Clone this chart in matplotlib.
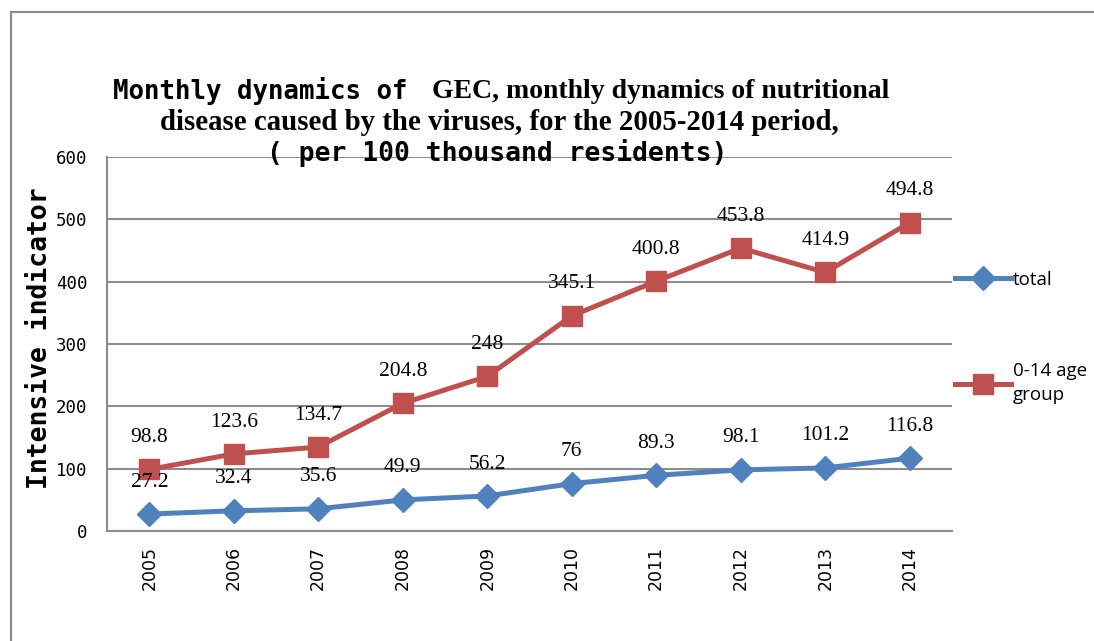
import matplotlib.pyplot as plt
from matplotlib.patches import Rectangle

years = ['2005', '2006', '2007', '2008', '2009', '2010', '2011', '2012', '2013', '2014']
total = [27.2, 32.4, 35.6, 49.9, 56.2, 76, 89.3, 98.1, 101.2, 116.8]
age_0_14 = [98.8, 123.6, 134.7, 204.8, 248, 345.1, 400.8, 453.8, 414.9, 494.8]
yticks = [0, 100, 200, 300, 400, 500, 600]

W, H = 1094, 641
fig = plt.figure(figsize=(W / 100, H / 100), dpi=100)

# outer chart frame (only left and top edges fall inside the picture)
fig.add_artist(Rectangle((11 / W, -0.2), 2.0, 1.2 - 12 / H, transform=fig.transFigure,
                         fill=False, edgecolor='#8c8c8c', linewidth=1.6))

ax = fig.add_axes([107 / W, 1 - 531 / H, (952 - 107) / W, (531 - 157) / H])
x = list(range(len(years)))

ax.plot(x, total, color='#4F81BD', linewidth=3.6, marker='D', markersize=12,
        label='total', zorder=3)
ax.plot(x, age_0_14, color='#C0504D', linewidth=3.6, marker='s', markersize=14,
        label='0-14 age\ngroup', zorder=3)

for xi, v in zip(x, total):
    ax.annotate(f'{v:g}', (xi, v), xytext=(0, 23), textcoords='offset points',
                ha='center', va='center', fontsize=15.5, family='Liberation Serif')
for xi, v in zip(x, age_0_14):
    ax.annotate(f'{v:g}', (xi, v), xytext=(0, 23), textcoords='offset points',
                ha='center', va='center', fontsize=15.5, family='Liberation Serif')

ax.set_xlim(-0.5, len(years) - 0.5)
ax.set_ylim(0, 600)
ax.set_xticks(x)
ax.set_xticklabels(years, rotation=90, fontsize=12.5, family='DejaVu Sans')
ax.set_yticks(yticks)
ax.set_yticklabels([str(t) for t in yticks], fontsize=12.5, family='DejaVu Sans Mono')
ax.tick_params(axis='x', length=0, pad=11)
ax.tick_params(axis='y', length=0, pad=14)
ax.grid(axis='y', color='#8c8c8c', linewidth=1.5)
ax.set_axisbelow(True)
for side in ['top', 'right']:
    ax.spines[side].set_visible(False)
for side in ['left', 'bottom']:
    ax.spines[side].set_color('#8c8c8c')
    ax.spines[side].set_linewidth(1.5)

fig.text(40 / W, 1 - 338 / H, 'Intensive indicator', rotation=90, ha='center', va='center',
         fontsize=19, fontweight='bold', family='DejaVu Sans Mono')

# title: mixed typefaces
fig.text(113 / W, 1 - 91 / H, 'Monthly dynamics of', ha='left', va='center',
         fontsize=18.5, fontweight='bold', family='DejaVu Sans Mono')
fig.text(432 / W, 1 - 91 / H, 'GEC, monthly dynamics of nutritional', ha='left', va='center',
         fontsize=20, fontweight='bold', family='Liberation Serif')
fig.text(499 / W, 1 - 122 / H, 'disease caused by the viruses, for the 2005-2014 period,',
         ha='center', va='center', fontsize=20.8, fontweight='bold', family='Liberation Serif')
fig.text(497 / W, 1 - 153 / H, '( per 100 thousand residents)', ha='center', va='center',
         fontsize=19, fontweight='bold', family='DejaVu Sans Mono')

leg = ax.legend(loc='upper left', bbox_to_anchor=(955 / W, 1 - 271 / H),
                bbox_transform=fig.transFigure, frameon=False,
                prop={'family': 'Open Sans', 'size': 13.5}, handlelength=3.0,
                handletextpad=0.1, labelspacing=3.9, borderpad=0, borderaxespad=0)
for t in leg.get_texts():
    t.set_linespacing(1.45)

fig.savefig('out.png', dpi=100)
